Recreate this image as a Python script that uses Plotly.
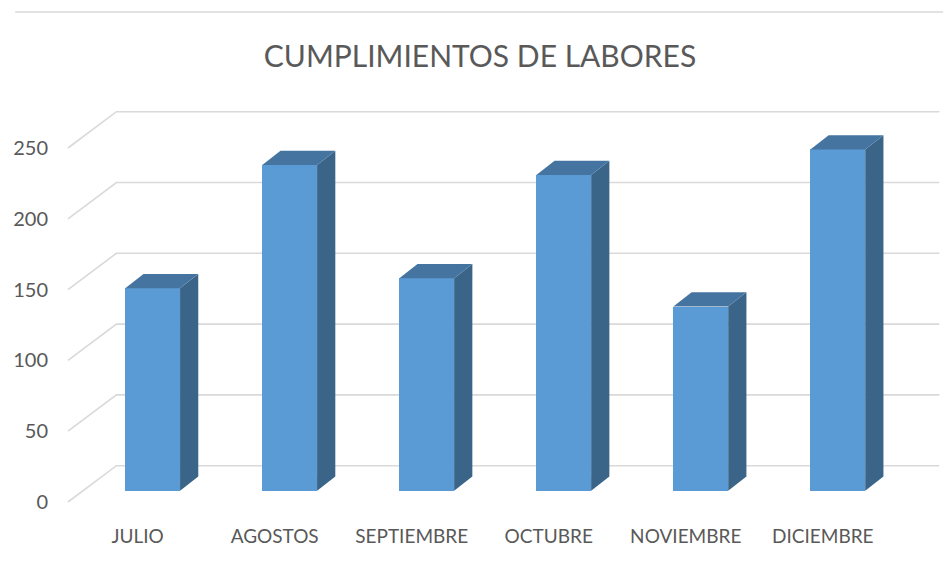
import plotly.graph_objects as go

# ---- data ----
categories = ["JULIO", "AGOSTOS", "SEPTIEMBRE", "OCTUBRE", "NOVIEMBRE", "DICIEMBRE"]
values = [143, 230, 150, 223, 130, 241]
y_ticks = [0, 50, 100, 150, 200, 250]
title_text = "CUMPLIMIENTOS DE LABORES"

# ---- style / projection constants (oblique 3D look) ----
FRONT_C = "#5B9BD5"
SIDE_C = "#3A6488"
TOP_C = "#4674A0"
GRID_C = "#D9D9D9"
TEXT_C = "#595959"
FONT = "Lato, 'Open Sans', sans-serif"

BAR_W = 0.40                       # bar front width (category units)
BAR_DX, BAR_DY = 0.133, 10.1       # bar depth offset (x units, y units)
FRONT_DX, FRONT_DY = -0.1096, -7.98  # floor front edge relative to bar plane
WALL_DX, WALL_DY = 0.244, 17.66      # back wall relative to bar plane
LEFT_FRONT_X = -0.618
RIGHT_BACK_X = 5.741

idx = list(range(len(categories)))

fig = go.Figure()

# front faces
fig.add_trace(go.Bar(x=idx, y=values, width=BAR_W,
                     marker=dict(color=FRONT_C, line=dict(width=0)),
                     showlegend=False, name="Cumplimientos"))

# side and top faces
for i, v in zip(idx, values):
    xr = i + BAR_W / 2
    xl = i - BAR_W / 2
    fig.add_trace(go.Scatter(
        x=[xr, xr + BAR_DX, xr + BAR_DX, xr, xr],
        y=[0, BAR_DY, v + BAR_DY, v, 0],
        mode="lines", fill="toself", fillcolor=SIDE_C,
        line=dict(width=0, color=SIDE_C), hoverinfo="skip", showlegend=False))
    fig.add_trace(go.Scatter(
        x=[xl, xr, xr + BAR_DX, xl + BAR_DX, xl],
        y=[v, v, v + BAR_DY, v + BAR_DY, v],
        mode="lines", fill="toself", fillcolor=TOP_C,
        line=dict(width=0, color=TOP_C), hoverinfo="skip", showlegend=False))

# gridlines as shapes below traces (side wall diagonal + back wall)
shapes = []
xlb = LEFT_FRONT_X - FRONT_DX + WALL_DX
for v in y_ticks:
    shapes.append(dict(
        type="path", xref="x", yref="y", layer="below",
        path=f"M {LEFT_FRONT_X},{v + FRONT_DY} L {xlb},{v + WALL_DY} L {RIGHT_BACK_X},{v + WALL_DY}",
        line=dict(color=GRID_C, width=1.6)))

# layout geometry (page body has an 8px margin)
OFF = 8
W, H = 951 - OFF, 562 - OFF
L, R, T, B = 50 - OFF, 5, 100 - OFF, 47
px0, pxstep = 148.2 - OFF, 137.8
py0, pyscale = 490.7 - OFF, 1.416
x_range = [(L - px0) / pxstep, (W - R - px0) / pxstep]
y_range = [(py0 - (H - B)) / pyscale, (py0 - T) / pyscale]

top_line_y = (H - B - (12 - OFF)) / (H - B - T)
shapes.append(dict(type="line", xref="paper", yref="paper",
                   x0=(10 - OFF - L) / (W - L - R), x1=(W - L) / (W - L - R),
                   y0=top_line_y, y1=top_line_y,
                   line=dict(color=GRID_C, width=1.5)))

fig.update_layout(
    width=W, height=H,
    margin=dict(l=L, r=R, t=T, b=B),
    paper_bgcolor="white", plot_bgcolor="white",
    title=dict(text=title_text, x=(480 - OFF) / W, xref="container", xanchor="center",
               y=1 - (56 - OFF) / H, yref="container", yanchor="middle",
               font=dict(family=FONT, size=30, color=TEXT_C)),
    xaxis=dict(range=x_range, showgrid=False, zeroline=False, showline=False,
               tickvals=[i + FRONT_DX for i in idx], ticktext=categories,
               ticks="", ticklabelstandoff=8,
               tickfont=dict(family=FONT, size=19, color=TEXT_C)),
    yaxis=dict(range=y_range, showgrid=False, zeroline=False, showline=False,
               tickvals=[v + FRONT_DY for v in y_ticks],
               ticktext=[str(v) for v in y_ticks],
               ticks="", ticklabelstandoff=6,
               tickfont=dict(family=FONT, size=20, color=TEXT_C)),
    bargap=0,
    shapes=shapes,
)

fig.write_html("out.html")
